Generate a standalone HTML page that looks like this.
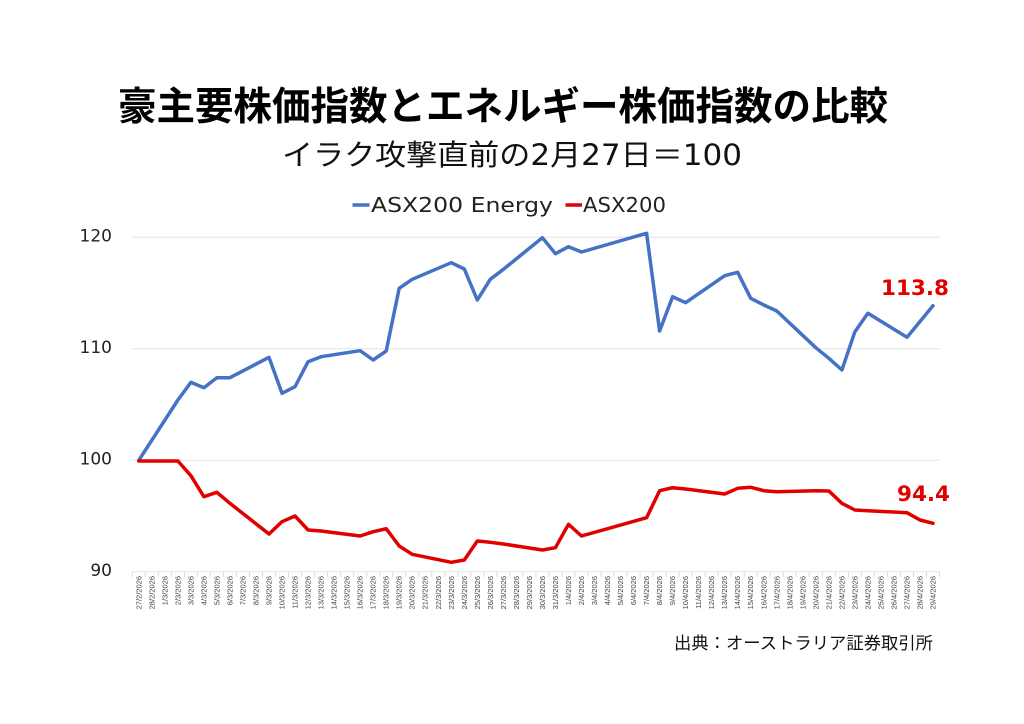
<!DOCTYPE html>
<html>
<head>
<meta charset="utf-8">
<style>
  html, body { margin: 0; padding: 0; background: #ffffff; }
  body { width: 1024px; height: 724px; overflow: hidden; }
  svg { display: block; }
</style>
</head>
<body>
<svg width="1024" height="724" viewBox="0 0 1024 724" xmlns="http://www.w3.org/2000/svg">
  <rect x="0" y="0" width="1024" height="724" fill="#ffffff"/>

  <!-- Title -->
  <text x="118" y="120" font-family="'Liberation Sans','Noto Sans CJK JP',sans-serif" font-weight="bold" font-size="39" fill="#000" textLength="770" lengthAdjust="spacingAndGlyphs">豪主要株価指数とエネルギー株価指数の比較</text>
  <!-- Subtitle -->
  <text x="282" y="165" font-family="'DejaVu Sans','Noto Sans CJK JP',sans-serif" font-size="29" fill="#111" textLength="460" lengthAdjust="spacingAndGlyphs">イラク攻撃直前の2月27日＝100</text>

  <!-- Legend -->
  <line x1="352.5" y1="205" x2="369.5" y2="205" stroke="#4472C4" stroke-width="3.5"/>
  <text x="371" y="212" font-family="'DejaVu Sans',sans-serif" font-size="20" fill="#222" textLength="182" lengthAdjust="spacingAndGlyphs">ASX200 Energy</text>
  <line x1="565.5" y1="205" x2="582" y2="205" stroke="#E00000" stroke-width="3.5"/>
  <text x="583" y="212" font-family="'DejaVu Sans',sans-serif" font-size="20" fill="#222" textLength="83" lengthAdjust="spacingAndGlyphs">ASX200</text>

  <!-- Gridlines -->
  <g stroke="#e3e3e3" stroke-width="1">
    <line x1="132" y1="237.3" x2="940" y2="237.3"/>
    <line x1="132" y1="348.8" x2="940" y2="348.8"/>
    <line x1="132" y1="460.3" x2="940" y2="460.3"/>
    <line x1="132" y1="571.8" x2="940" y2="571.8"/>
  </g>

  <!-- Y labels -->
  <g font-family="'DejaVu Sans',sans-serif" font-size="17" fill="#222" text-anchor="end">
    <text x="112" y="241.7">120</text>
    <text x="112" y="353.2">110</text>
    <text x="112" y="464.7">100</text>
    <text x="112" y="576.2">90</text>
  </g>

  <!-- Series: ASX200 Energy -->
  <polyline fill="none" stroke="#4472C4" stroke-width="3.5" stroke-linejoin="round" stroke-linecap="round"
    points="138.8,460.3 177.9,400 190.9,382.3 203.9,387.7 216.9,377.7 229.9,377.7 269.0,357.3 282.0,393.3 295.0,386.7 308.1,361.7 321.1,356.7 360.1,350.7 373.2,360 386.2,351 399.2,288.3 412.2,279.3 451.3,262.7 464.3,269 477.3,300 490.3,279.3 503.4,269.3 542.4,237.7 555.4,253.7 568.5,246.7 581.5,252 646.6,233.3 659.6,331 672.6,296.7 685.6,302.7 724.7,275.7 737.7,272.3 750.7,298.3 763.8,305 776.8,311 815.8,347.7 828.9,358.3 841.9,370 854.9,331.7 867.9,313.3 907.0,337.3 920.0,321.5 933.0,305.7"/>

  <!-- Series: ASX200 -->
  <polyline fill="none" stroke="#E00000" stroke-width="3.5" stroke-linejoin="round" stroke-linecap="round"
    points="138.8,461 177.9,461 190.9,475.7 203.9,496.7 216.9,492.3 229.9,503.3 269.0,534 282.0,521.7 295.0,516 308.1,530 321.1,531 360.1,536 373.2,531.7 386.2,528.7 399.2,546 412.2,554.3 451.3,562.3 464.3,560 477.3,541 490.3,542.3 503.4,544 542.4,550 555.4,547.7 568.5,524.3 581.5,536 646.6,517.7 659.6,490.7 672.6,487.7 685.6,489 724.7,494 737.7,488.3 750.7,487.3 763.8,490.7 776.8,491.7 815.8,490.7 828.9,491 841.9,503.3 854.9,510 867.9,510.7 907.0,512.7 920.0,520 933.0,523.3"/>

  <!-- Data labels -->
  <text x="881" y="295" font-family="'DejaVu Sans',sans-serif" font-weight="bold" font-size="21.5" fill="#E00000" textLength="68" lengthAdjust="spacingAndGlyphs">113.8</text>
  <text x="897" y="501" font-family="'DejaVu Sans',sans-serif" font-weight="bold" font-size="21.5" fill="#E00000" textLength="53" lengthAdjust="spacingAndGlyphs">94.4</text>

  <!-- Source -->
  <text x="674" y="649" font-family="'Liberation Sans','Noto Sans CJK JP',sans-serif" font-size="17" fill="#111" textLength="259" lengthAdjust="spacingAndGlyphs">出典：オーストラリア証券取引所</text>

  <!-- X labels -->
  <g font-family="'Liberation Sans',sans-serif" font-size="7.5" fill="#444" text-anchor="end">
    <text transform="translate(141.3,576) rotate(-90)">27/2/2026</text>
    <text transform="translate(154.3,576) rotate(-90)">28/2/2026</text>
    <text transform="translate(167.3,576) rotate(-90)">1/3/2026</text>
    <text transform="translate(180.4,576) rotate(-90)">2/3/2026</text>
    <text transform="translate(193.4,576) rotate(-90)">3/3/2026</text>
    <text transform="translate(206.4,576) rotate(-90)">4/3/2026</text>
    <text transform="translate(219.4,576) rotate(-90)">5/3/2026</text>
    <text transform="translate(232.4,576) rotate(-90)">6/3/2026</text>
    <text transform="translate(245.5,576) rotate(-90)">7/3/2026</text>
    <text transform="translate(258.5,576) rotate(-90)">8/3/2026</text>
    <text transform="translate(271.5,576) rotate(-90)">9/3/2026</text>
    <text transform="translate(284.5,576) rotate(-90)">10/3/2026</text>
    <text transform="translate(297.5,576) rotate(-90)">11/3/2026</text>
    <text transform="translate(310.6,576) rotate(-90)">12/3/2026</text>
    <text transform="translate(323.6,576) rotate(-90)">13/3/2026</text>
    <text transform="translate(336.6,576) rotate(-90)">14/3/2026</text>
    <text transform="translate(349.6,576) rotate(-90)">15/3/2026</text>
    <text transform="translate(362.6,576) rotate(-90)">16/3/2026</text>
    <text transform="translate(375.7,576) rotate(-90)">17/3/2026</text>
    <text transform="translate(388.7,576) rotate(-90)">18/3/2026</text>
    <text transform="translate(401.7,576) rotate(-90)">19/3/2026</text>
    <text transform="translate(414.7,576) rotate(-90)">20/3/2026</text>
    <text transform="translate(427.7,576) rotate(-90)">21/3/2026</text>
    <text transform="translate(440.8,576) rotate(-90)">22/3/2026</text>
    <text transform="translate(453.8,576) rotate(-90)">23/3/2026</text>
    <text transform="translate(466.8,576) rotate(-90)">24/3/2026</text>
    <text transform="translate(479.8,576) rotate(-90)">25/3/2026</text>
    <text transform="translate(492.8,576) rotate(-90)">26/3/2026</text>
    <text transform="translate(505.9,576) rotate(-90)">27/3/2026</text>
    <text transform="translate(518.9,576) rotate(-90)">28/3/2026</text>
    <text transform="translate(531.9,576) rotate(-90)">29/3/2026</text>
    <text transform="translate(544.9,576) rotate(-90)">30/3/2026</text>
    <text transform="translate(557.9,576) rotate(-90)">31/3/2026</text>
    <text transform="translate(571.0,576) rotate(-90)">1/4/2026</text>
    <text transform="translate(584.0,576) rotate(-90)">2/4/2026</text>
    <text transform="translate(597.0,576) rotate(-90)">3/4/2026</text>
    <text transform="translate(610.0,576) rotate(-90)">4/4/2026</text>
    <text transform="translate(623.0,576) rotate(-90)">5/4/2026</text>
    <text transform="translate(636.1,576) rotate(-90)">6/4/2026</text>
    <text transform="translate(649.1,576) rotate(-90)">7/4/2026</text>
    <text transform="translate(662.1,576) rotate(-90)">8/4/2026</text>
    <text transform="translate(675.1,576) rotate(-90)">9/4/2026</text>
    <text transform="translate(688.1,576) rotate(-90)">10/4/2026</text>
    <text transform="translate(701.2,576) rotate(-90)">11/4/2026</text>
    <text transform="translate(714.2,576) rotate(-90)">12/4/2026</text>
    <text transform="translate(727.2,576) rotate(-90)">13/4/2026</text>
    <text transform="translate(740.2,576) rotate(-90)">14/4/2026</text>
    <text transform="translate(753.2,576) rotate(-90)">15/4/2026</text>
    <text transform="translate(766.3,576) rotate(-90)">16/4/2026</text>
    <text transform="translate(779.3,576) rotate(-90)">17/4/2026</text>
    <text transform="translate(792.3,576) rotate(-90)">18/4/2026</text>
    <text transform="translate(805.3,576) rotate(-90)">19/4/2026</text>
    <text transform="translate(818.3,576) rotate(-90)">20/4/2026</text>
    <text transform="translate(831.4,576) rotate(-90)">21/4/2026</text>
    <text transform="translate(844.4,576) rotate(-90)">22/4/2026</text>
    <text transform="translate(857.4,576) rotate(-90)">23/4/2026</text>
    <text transform="translate(870.4,576) rotate(-90)">24/4/2026</text>
    <text transform="translate(883.4,576) rotate(-90)">25/4/2026</text>
    <text transform="translate(896.5,576) rotate(-90)">26/4/2026</text>
    <text transform="translate(909.5,576) rotate(-90)">27/4/2026</text>
    <text transform="translate(922.5,576) rotate(-90)">28/4/2026</text>
    <text transform="translate(935.5,576) rotate(-90)">29/4/2026</text>
  </g>
  <path stroke="#dcdcdc" stroke-width="1" fill="none" d="M132.3,572V577 M145.3,572V577 M158.3,572V577 M171.4,572V577 M184.4,572V577 M197.4,572V577 M210.4,572V577 M223.4,572V577 M236.5,572V577 M249.5,572V577 M262.5,572V577 M275.5,572V577 M288.5,572V577 M301.6,572V577 M314.6,572V577 M327.6,572V577 M340.6,572V577 M353.6,572V577 M366.7,572V577 M379.7,572V577 M392.7,572V577 M405.7,572V577 M418.7,572V577 M431.8,572V577 M444.8,572V577 M457.8,572V577 M470.8,572V577 M483.8,572V577 M496.9,572V577 M509.9,572V577 M522.9,572V577 M535.9,572V577 M548.9,572V577 M562.0,572V577 M575.0,572V577 M588.0,572V577 M601.0,572V577 M614.0,572V577 M627.1,572V577 M640.1,572V577 M653.1,572V577 M666.1,572V577 M679.1,572V577 M692.2,572V577 M705.2,572V577 M718.2,572V577 M731.2,572V577 M744.2,572V577 M757.3,572V577 M770.3,572V577 M783.3,572V577 M796.3,572V577 M809.3,572V577 M822.4,572V577 M835.4,572V577 M848.4,572V577 M861.4,572V577 M874.4,572V577 M887.5,572V577 M900.5,572V577 M913.5,572V577 M926.5,572V577 M939.5,572V577"/>
</svg>
</body>
</html>
